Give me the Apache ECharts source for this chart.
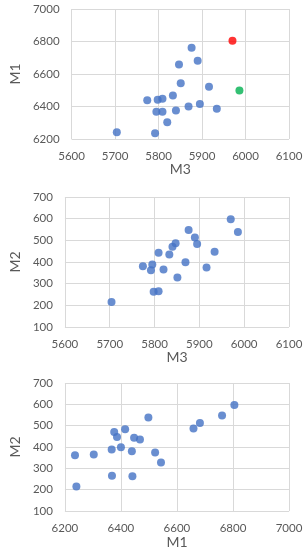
<!DOCTYPE html>
<html>
<head>
<meta charset="utf-8">
<script src="https://cdn.jsdelivr.net/npm/echarts@6/dist/echarts.min.js"></script>
<style>
html,body{margin:0;padding:0;background:#fff;}
#c{width:307px;height:550px;}
</style>
</head>
<body>
<div id="c"></div>
<script>
// Observations (20 samples)
var m1 = [6805, 6498, 6761, 6682, 6659, 6543, 6522, 6439, 6441, 6447, 6468, 6367, 6368, 6376, 6400, 6415, 6386, 6303, 6241, 6236];
var m2 = [597, 538, 548, 513, 487, 328, 375, 380, 263, 443, 435, 389, 265, 470, 399, 483, 447, 365, 215, 362];
var m3 = [5970, 5986, 5876, 5890, 5847, 5851, 5916, 5774, 5798, 5809, 5833, 5795, 5809, 5840, 5869, 5895, 5934, 5820, 5704, 5792];
// highlighted points in first chart
var highlightIdx = [0, 1];
var highlightColors = ['#FF0000', '#00B050'];
var baseColor = '#4472C4';

var textColor = '#595959';
var gridColor = '#d9d9d9';
var fontFam = 'Lato, "Liberation Sans", sans-serif';

function pairs(xs, ys) {
  var out = [];
  for (var i = 0; i < xs.length; i++) out.push([xs[i], ys[i]]);
  return out;
}
function plain(v) { return String(v); }

function xAxis(gi, name, min, max, interval) {
  return {
    type: 'value', gridIndex: gi, min: min, max: max, interval: interval,
    name: name, nameLocation: 'middle', nameGap: 19,
    nameTextStyle: {color: textColor, fontSize: 14, fontFamily: fontFam},
    axisLine: {show: false}, axisTick: {show: false},
    axisLabel: {color: textColor, fontSize: 11.5, fontFamily: fontFam, margin: 11, formatter: plain},
    splitLine: {show: true, lineStyle: {color: gridColor, width: 1}}
  };
}
function yAxis(gi, name, min, max, interval, gap) {
  return {
    type: 'value', gridIndex: gi, min: min, max: max, interval: interval,
    name: name, nameLocation: 'middle', nameGap: gap,
    nameTextStyle: {color: textColor, fontSize: 14, fontFamily: fontFam},
    axisLine: {show: false}, axisTick: {show: false},
    axisLabel: {color: textColor, fontSize: 11.5, fontFamily: fontFam, margin: 12, formatter: plain},
    splitLine: {show: true, lineStyle: {color: gridColor, width: 1}}
  };
}

var d1 = pairs(m3, m1).map(function (p, i) {
  var k = highlightIdx.indexOf(i);
  return {value: p, itemStyle: {color: k >= 0 ? highlightColors[k] : baseColor}};
});

var chart = echarts.init(document.getElementById('c'), null, {renderer: 'canvas'});
chart.setOption({
  animation: false,
  backgroundColor: '#fff',
  grid: [
    {left: 52, top: 9, width: 237, height: 130},
    {left: 48, top: 197, width: 241, height: 130},
    {left: 48, top: 383, width: 241, height: 130}
  ],
  xAxis: [
    xAxis(0, 'M3', 5600, 6100, 100),
    xAxis(1, 'M3', 5600, 6100, 100),
    xAxis(2, 'M1', 6200, 7000, 200)
  ],
  yAxis: [
    yAxis(0, 'M1', 6200, 7000, 200, 34),
    yAxis(1, 'M2', 100, 700, 100, 31),
    yAxis(2, 'M2', 100, 700, 100, 31)
  ],
  series: [
    {type: 'scatter', xAxisIndex: 0, yAxisIndex: 0, symbolSize: 8, data: d1},
    {type: 'scatter', xAxisIndex: 1, yAxisIndex: 1, symbolSize: 8, itemStyle: {color: baseColor}, data: pairs(m3, m2)},
    {type: 'scatter', xAxisIndex: 2, yAxisIndex: 2, symbolSize: 8, itemStyle: {color: baseColor}, data: pairs(m1, m2)}
  ]
});
</script>
</body>
</html>
